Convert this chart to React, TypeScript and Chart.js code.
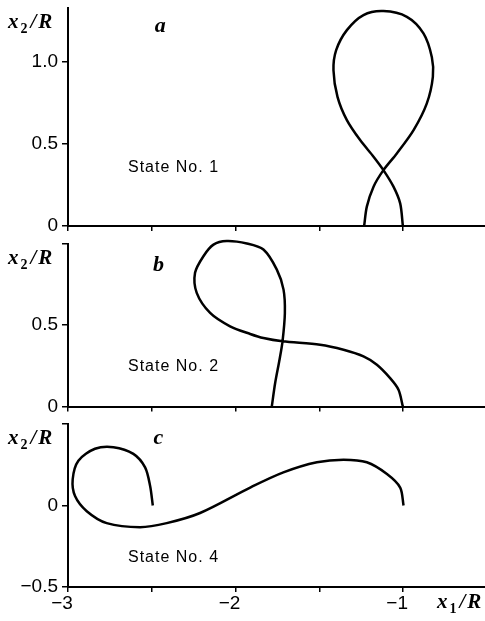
import React, { useEffect, useRef } from "react";
import { Chart, registerables } from "chart.js";

Chart.register(...registerables);

// Shared x1/R axis
const xTicks = [-3, -2.5, -2, -1.5, -1, -0.5];
const xTickLabels = ["−3", "", "−2", "", "−1", ""];

// State No. 1 trajectory
const stateOneX = [-1.233, -1.217, -1.177, -1.118, -1.038, -0.938, -0.859, -0.823, -0.829, -0.879, -0.978, -1.118, -1.237, -1.336, -1.4, -1.416, -1.392, -1.336, -1.257, -1.177, -1.118, -1.058, -1.018, -1.002];
const stateOneY = [0, 0.118, 0.24, 0.341, 0.443, 0.585, 0.748, 0.91, 1.03, 1.175, 1.276, 1.311, 1.287, 1.195, 1.073, 0.95, 0.788, 0.646, 0.524, 0.423, 0.341, 0.24, 0.138, 0];
const stateOneTicks = [0, 0.5, 1.0];
const stateOneTickLabels = ["0", "0.5", "1.0"];

// State No. 2 trajectory
const stateTwoX = [-1.784, -1.764, -1.738, -1.72, -1.706, -1.714, -1.754, -1.834, -1.933, -2.053, -2.132, -2.192, -2.242, -2.232, -2.152, -2.033, -1.913, -1.834, -1.72, -1.496, -1.356, -1.237, -1.157, -1.078, -1.028, -1.002];
const stateTwoY = [0, 0.144, 0.287, 0.4, 0.574, 0.717, 0.84, 0.963, 1.0, 1.015, 0.993, 0.922, 0.82, 0.697, 0.574, 0.492, 0.445, 0.42, 0.4, 0.379, 0.348, 0.307, 0.256, 0.174, 0.103, 0];
const stateTwoTicks = [0, 0.5, 1.0];
const stateTwoTickLabels = ["0", "0.5", ""];

// State No. 4 trajectory
const stateFourX = [-2.494, -2.51, -2.54, -2.61, -2.729, -2.839, -2.938, -2.972, -2.958, -2.888, -2.769, -2.57, -2.411, -2.212, -1.913, -1.715, -1.515, -1.356, -1.217, -1.097, -1.018, -0.998];
const stateFourY = [0, 0.12, 0.234, 0.317, 0.358, 0.348, 0.275, 0.161, 0.058, -0.035, -0.108, -0.133, -0.108, -0.046, 0.11, 0.203, 0.265, 0.281, 0.265, 0.193, 0.11, 0];
const stateFourTicks = [-0.5, 0, 0.5];
const stateFourTickLabels = ["−0.5", "0", ""];

const CANVAS_W = 488;
const SANS = '"Liberation Sans", Arial, sans-serif';
const SERIF = '"Liberation Serif", "Times New Roman", serif';

type PanelSpec = {
  top: number;
  height: number;
  padTop: number;
  xAxisHeight: number;
  xs: number[];
  ys: number[];
  yMin: number;
  yMax: number;
  yTicks: number[];
  yTickLabels: string[];
  letter: string;
  letterAt: [number, number];
  state: string;
  stateAt: [number, number];
  showXLabels: boolean;
};

// draws an italic variable with a subscript, e.g. x₂/R
function drawVar(ctx: CanvasRenderingContext2D, base: string, sub: string, left: number, baseline: number) {
  const main = `italic bold 21px ${SERIF}`;
  let x = left;
  ctx.textAlign = "left";
  ctx.textBaseline = "alphabetic";
  ctx.font = main;
  ctx.fillText(base, x, baseline);
  x += ctx.measureText(base).width + 2;
  ctx.font = `bold 14px ${SERIF}`;
  ctx.fillText(sub, x, baseline + 5);
  x += ctx.measureText(sub).width + 3;
  ctx.font = main;
  ctx.fillText("/", x, baseline);
  x += ctx.measureText("/").width + 2;
  ctx.fillText("R", x, baseline);
}

function Panel({ spec }: { spec: PanelSpec }) {
  const ref = useRef<HTMLCanvasElement>(null);

  useEffect(() => {
    const points = spec.xs.map((x, i) => ({ x, y: spec.ys[i] }));

    const annotate = {
      id: "annotate",
      afterDraw(chart: any) {
        const { ctx, chartArea, scales } = chart;
        ctx.save();
        ctx.fillStyle = "#000";

        // panel letter
        ctx.font = `italic bold 22px ${SERIF}`;
        ctx.textAlign = "center";
        ctx.textBaseline = "alphabetic";
        ctx.fillText(spec.letter, scales.x.getPixelForValue(spec.letterAt[0]), scales.y.getPixelForValue(spec.letterAt[1]));

        // state caption
        ctx.font = `16px ${SANS}`;
        (ctx as any).letterSpacing = "1px";
        ctx.textAlign = "left";
        ctx.fillText(spec.state, scales.x.getPixelForValue(spec.stateAt[0]), scales.y.getPixelForValue(spec.stateAt[1]));
        (ctx as any).letterSpacing = "0px";

        // y-axis title
        drawVar(ctx, "x", "2", chartArea.left - 60, chartArea.top + 20);

        // x-axis title on the bottom panel
        if (spec.showXLabels) {
          drawVar(ctx, "x", "1", chartArea.right - 50, chartArea.bottom + 21);
        }
        ctx.restore();
      },
    };

    const chart = new Chart(ref.current!, {
      type: "scatter",
      data: {
        datasets: [
          {
            data: points,
            showLine: true,
            borderColor: "#000",
            borderWidth: 2.5,
            pointRadius: 0,
            tension: 0.3,
            fill: false,
            clip: false,
          } as any,
        ],
      },
      options: {
        animation: false,
        responsive: false,
        devicePixelRatio: 1,
        layout: { padding: { top: spec.padTop, right: 1, left: 0, bottom: 0 } },
        plugins: { legend: { display: false }, tooltip: { enabled: false } },
        scales: {
          x: {
            type: "linear",
            min: -3,
            max: -0.5,
            afterBuildTicks: (s: any) => {
              s.ticks = xTicks.map((v) => ({ value: v }));
            },
            afterFit: (s: any) => {
              s.height = spec.xAxisHeight;
              s.paddingLeft = 0;
              s.paddingRight = 0;
            },
            grid: { display: true, drawOnChartArea: false, drawTicks: true, tickLength: 5, color: "#000", lineWidth: 1.5 },
            border: { display: true, color: "#000", width: 2 },
            ticks: {
              display: spec.showXLabels,
              autoSkip: false,
              maxRotation: 0,
              padding: 0,
              labelOffset: -6,
              color: "#000",
              font: { family: SANS, size: 19 },
              callback: (v: any) => {
                const i = xTicks.indexOf(Number(v));
                return i >= 0 ? xTickLabels[i] : "";
              },
            },
          },
          y: {
            type: "linear",
            min: spec.yMin,
            max: spec.yMax,
            afterBuildTicks: (s: any) => {
              s.ticks = spec.yTicks.map((v) => ({ value: v }));
            },
            afterFit: (s: any) => {
              s.width = 68;
              s.paddingTop = 0;
              s.paddingBottom = 0;
            },
            grid: { display: true, drawOnChartArea: false, drawTicks: true, tickLength: 6, color: "#000", lineWidth: 1.5 },
            border: { display: true, color: "#000", width: 2 },
            ticks: {
              padding: 4,
              color: "#000",
              font: { family: SANS, size: 19 },
              callback: (v: any) => {
                const i = spec.yTicks.indexOf(Number(v));
                return i >= 0 ? spec.yTickLabels[i] : "";
              },
            },
          },
        },
      },
      plugins: [annotate],
    });
    return () => chart.destroy();
  }, [spec]);

  return (
    <canvas
      ref={ref}
      width={CANVAS_W}
      height={spec.height}
      style={{ position: "absolute", left: 0, top: spec.top, width: CANVAS_W, height: spec.height, display: "block" }}
    />
  );
}

const panels: PanelSpec[] = [
  {
    top: 0, height: 236, padTop: 8, xAxisHeight: 10,
    xs: stateOneX, ys: stateOneY, yMin: 0, yMax: 1.33,
    yTicks: stateOneTicks, yTickLabels: stateOneTickLabels,
    letter: "a", letterAt: [-2.45, 1.185],
    state: "State No. 1", stateAt: [-2.642, 0.331],
    showXLabels: false,
  },
  {
    top: 236, height: 178, padTop: 7.5, xAxisHeight: 7.5,
    xs: stateTwoX, ys: stateTwoY, yMin: 0, yMax: 1.0,
    yTicks: stateTwoTicks, yTickLabels: stateTwoTickLabels,
    letter: "b", letterAt: [-2.46, 0.83],
    state: "State No. 2", stateAt: [-2.642, 0.215],
    showXLabels: false,
  },
  {
    top: 414, height: 207, padTop: 10, xAxisHeight: 34,
    xs: stateFourX, ys: stateFourY, yMin: -0.5, yMax: 0.5,
    yTicks: stateFourTicks, yTickLabels: stateFourTickLabels,
    letter: "c", letterAt: [-2.46, 0.379],
    state: "State No. 4", stateAt: [-2.642, -0.346],
    showXLabels: true,
  },
];

export default function App() {
  return (
    <div style={{ position: "absolute", left: 0, top: 0, width: 485, height: 621, overflow: "hidden", background: "#fff" }}>
      {panels.map((p) => (
        <Panel key={p.letter} spec={p} />
      ))}
    </div>
  );
}
